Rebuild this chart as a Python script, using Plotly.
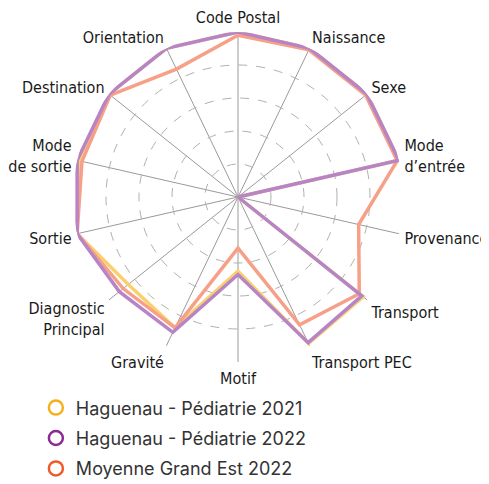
import plotly.graph_objects as go

categories = ["Code Postal", "Naissance", "Sexe", "Mode<br>d’entrée", "Provenance",
              "Transport", "Transport PEC", "Motif", "Gravité", "Diagnostic<br>Principal",
              "Sortie", "Mode<br>de sortie", "Destination", "Orientation"]

hag_2021 = [100, 100, 100, 100, 0, 97, 98.5, 45, 88, 85, 100, 99, 100, 100]
hag_2022 = [100, 100, 100, 100, 0, 96, 98, 47, 91, 92, 100, 100, 100, 100]
grand_est_2022 = [98, 99, 99, 99, 75, 94, 86, 31, 88, 89, 100, 97, 99, 86]

names = ["Haguenau - Pédiatrie 2021", "Haguenau - Pédiatrie 2022", "Moyenne Grand Est 2022"]
line_colors = ["#fccf6e", "#b784c6", "#f7a088"]
marker_colors = ["#f5b11a", "#8b2b93", "#ef5a2a"]

fig = go.Figure()

# lines: yellow, orange, then purple on top
for vals, col in [(hag_2021, line_colors[0]), (grand_est_2022, line_colors[2]), (hag_2022, line_colors[1])]:
    fig.add_trace(go.Scatterpolar(
        r=vals + vals[:1], theta=categories + categories[:1],
        mode="lines", line=dict(color=col, width=3.5),
        showlegend=False, hoverinfo="skip"))

# legend entries with open circles
for i, (name, col) in enumerate(zip(names, marker_colors)):
    fig.add_trace(go.Scatterpolar(
        r=[None], theta=[categories[0]], mode="markers", name=name,
        legendgroup=str(i),
        marker=dict(symbol="circle-open", size=14, color=col, line=dict(width=2.5, color=col))))

fig.update_layout(
    width=489, height=484,
    margin=dict(l=0, r=0, t=0, b=0),
    paper_bgcolor="white",
    polar=dict(
        domain=dict(x=[65 / 489, 395 / 489], y=[130 / 484, 460 / 484]),
        bgcolor="white",
        radialaxis=dict(range=[0, 100], tickvals=[20, 40, 60, 80, 100], showticklabels=False,
                        showline=False, ticks="", gridcolor="#b0b0b0", griddash="dash",
                        gridwidth=1),
        angularaxis=dict(direction="clockwise", rotation=90, showline=False,
                         gridcolor="#9a9a9a", gridwidth=1, ticks="outside", ticklen=2,
                         tickcolor="rgba(0,0,0,0)",
                         tickfont=dict(family="DejaVu Sans Condensed", size=16, color="#1a1a1a")),
    ),
    legend=dict(x=0.057, y=0.212, xanchor="left", yanchor="top", tracegroupgap=4,
                font=dict(family="Inter, Noto Sans", size=18, color="#333333")),
)

fig.write_html("out.html")
